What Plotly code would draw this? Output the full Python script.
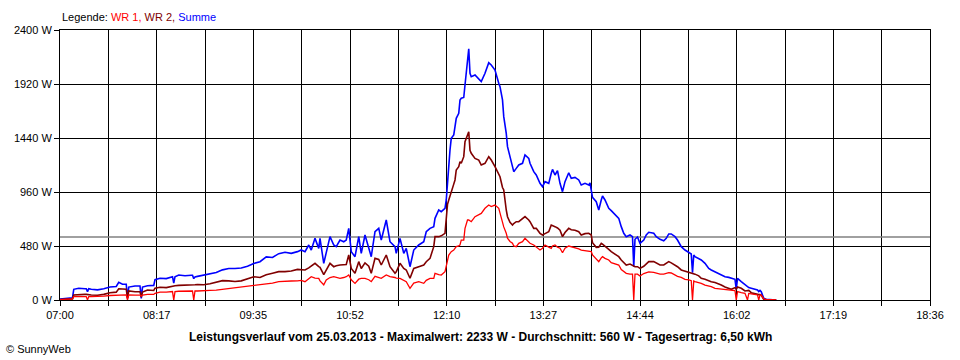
import plotly.graph_objects as go

# ---- data (minutes after 07:00, watts) ----
minutes = [0, 5, 10, 11, 15, 20, 21, 22, 23, 25, 30, 35, 40, 45, 47, 50, 53, 54, 55, 60, 64, 65, 66, 70, 75, 76, 80, 85, 90, 91, 92, 95, 100, 105, 106, 107, 108, 110, 115, 120, 125, 130, 135, 140, 145, 150, 155, 160, 165, 170, 175, 180, 185, 190, 193,
           196, 199, 201, 204, 207, 208, 211, 213, 216, 219, 221, 224, 227, 229, 231, 233, 236, 239, 241, 244, 247, 249, 252, 255, 257, 261, 264, 268, 269, 272, 275, 277, 280, 283, 287, 291, 293, 296, 299,
           300, 303, 305, 308, 309, 310, 311, 312, 313, 315, 316, 317, 319, 320, 321, 323, 324, 325, 326, 327, 328, 329, 332, 335, 337, 340, 343, 345, 348, 351, 352, 354, 355, 357, 358, 360, 362, 363, 365, 367, 370, 372, 375,
           376, 379, 381, 384, 386, 388, 391, 393, 394, 396, 398, 400, 402, 404, 407, 409, 412, 415, 417, 420, 423, 424, 425, 426, 429, 431, 433, 434, 436, 439, 441, 444, 447, 449, 451, 453, 456, 458, 459, 460, 462,
           464, 467, 469, 471, 475, 477, 480, 483, 485, 487, 489, 492, 494, 497, 500, 503, 505, 506, 507, 508, 511, 513, 516, 519, 521, 524, 527, 529, 532, 535, 537, 540, 541, 542, 545, 548, 550, 551, 553, 556, 558, 559, 560, 561, 563, 565, 571, 573]

summe = [8, 15, 20, 95, 104, 100, 100, 75, 100, 95, 90, 100, 115, 120, 157, 140, 140, 15, 115, 125, 125, 15, 115, 127, 130, 180, 193, 190, 207, 150, 207, 222, 215, 220, 220, 190, 205, 210, 222, 228, 245, 268, 280, 280, 285, 300, 325, 340, 383, 378, 412, 424, 415, 430, 445,
         430, 489, 444, 548, 459, 548, 326, 415, 563, 489, 474, 533, 518, 533, 637, 430, 385, 563, 415, 578, 474, 385, 607, 637, 533, 711, 518, 474, 415, 548, 415, 459, 296, 444, 489, 518, 607, 637, 652,
         726, 800, 785, 815, 889, 1037, 1215, 1333, 1437, 1467, 1541, 1615, 1659, 1778, 1793, 1800, 1911, 2044, 2148, 2233, 2015, 1985, 2000, 1970, 1941, 2015, 2110, 2089, 2044, 1926, 1896, 1778, 1630, 1481, 1363, 1274, 1185, 1141, 1170, 1200, 1215, 1289, 1259,
         1215, 1141, 1111, 1037, 1007, 1052, 1037, 1126, 1161, 1111, 1150, 1037, 963, 1052, 1131, 1081, 1090, 1067, 1022, 1037, 1022, 1040, 978, 913, 874, 800, 889, 924, 889, 815, 794, 756, 726, 652, 593, 563, 578, 563, 296, 540, 560,
         504, 533, 578, 602, 593, 563, 539, 527, 548, 587, 587, 563, 533, 474, 444, 424, 409, 243, 400, 385, 370, 356, 326, 281, 267, 252, 237, 222, 207, 201, 193, 184, 95, 193, 163, 133, 113, 110, 104, 95, 89, 75, 85, 74, 15, 6, 5, 0]

wr2 = [4, 8, 10, 45, 50, 50, 50, 50, 50, 45, 42, 50, 65, 70, 100, 95, 95, 20, 80, 74, 74, 25, 70, 89, 85, 105, 113, 110, 127, 125, 127, 130, 130, 135, 135, 130, 135, 138, 135, 145, 158, 172, 170, 165, 170, 190, 207, 200, 225, 238, 252, 252, 258, 272, 268,
       267, 285, 300, 326, 296, 290, 225, 267, 326, 296, 305, 311, 311, 315, 400, 280, 237, 341, 280, 330, 300, 237, 370, 360, 311, 400, 296, 237, 250, 326, 280, 267, 193, 280, 296, 311, 340, 370, 474,
       563, 563, 570, 593, 741, 850, 889, 930, 963, 1030, 1067, 1156, 1185, 1230, 1215, 1274, 1407, 1440, 1480, 1496, 1330, 1304, 1259, 1244, 1200, 1215, 1274, 1244, 1185, 1111, 1096, 1000, 978, 800, 740, 690, 667, 680, 696, 696, 726, 741, 711,
       696, 637, 637, 593, 578, 590, 607, 667, 660, 652, 640, 620, 563, 600, 637, 625, 620, 607, 578, 590, 593, 585, 578, 510, 468, 470, 504, 496, 480, 450, 430, 405, 385, 355, 330, 311, 320, 305, 296, 296, 296,
       281, 300, 320, 341, 341, 330, 311, 311, 325, 341, 330, 310, 296, 267, 258, 250, 243, 240, 235, 230, 215, 193, 185, 170, 163, 155, 145, 133, 115, 104, 95, 110, 95, 115, 104, 80, 85, 85, 65, 53, 50, 48, 48, 44, 5, 0, 0, 0]

wr1 = [4, 7, 10, 30, 30, 30, 30, 0, 30, 30, 30, 35, 40, 40, 45, 45, 45, 0, 45, 44, 44, 35, 44, 50, 50, 60, 70, 70, 75, 0, 75, 78, 80, 80, 80, 0, 80, 80, 80, 85, 88, 95, 100, 106, 112, 120, 127, 132, 143, 150, 163, 169, 169, 170, 175,
       163, 185, 207, 195, 192, 170, 135, 178, 200, 207, 200, 192, 200, 207, 222, 180, 148, 185, 192, 192, 180, 163, 210, 200, 192, 222, 207, 200, 195, 192, 170, 163, 104, 150, 163, 148, 175, 192, 192,
       237, 225, 222, 252, 300, 356, 400, 415, 430, 444, 460, 474, 480, 489, 533, 533, 637, 680, 711, 711, 700, 696, 741, 756, 770, 815, 844, 830, 844, 815, 770, 696, 650, 593, 550, 520, 504, 480, 474, 504, 519, 548, 519,
       504, 489, 474, 444, 460, 489, 470, 459, 480, 489, 470, 460, 420, 460, 480, 475, 468, 455, 444, 440, 437, 432, 430, 400, 360, 341, 375, 385, 370, 356, 332, 320, 311, 270, 250, 237, 230, 230, 0, 230, 230,
       213, 235, 245, 250, 245, 237, 230, 230, 235, 243, 240, 222, 210, 201, 184, 178, 172, 0, 168, 163, 155, 148, 133, 125, 119, 104, 100, 95, 89, 85, 83, 83, 0, 75, 65, 60, 0, 58, 55, 53, 45, 0, 45, 44, 10, 5, 0, 0]

x_labels = ["07:00", "08:17", "09:35", "10:52", "12:10", "13:27", "14:44", "16:02", "17:19", "18:36"]
y_ticks = [0, 480, 960, 1440, 1920, 2400]
average = 560
title_text = "Leistungsverlauf vom 25.03.2013 - Maximalwert: 2233 W - Durchschnitt: 560 W - Tagesertrag: 6,50 kWh"

# ---- build ----
start = 7 * 60
span = 18 * 60 + 36 - start
xs = [start + m for m in minutes]
grid_vals = [start + span * i / 18 for i in range(19)]
grid_text = [x_labels[i // 2] if i % 2 == 0 else "" for i in range(19)]

FONT = "Liberation Sans, Arial, sans-serif"

fig = go.Figure()
fig.add_trace(go.Scatter(x=[start, start + span], y=[average, average], mode="lines",
                         line=dict(color="#808080", width=1.5), hoverinfo="skip", showlegend=False))
fig.add_trace(go.Scatter(x=xs, y=summe, mode="lines", name="Summe",
                         line=dict(color="#0000ff", width=1.6), showlegend=False))
fig.add_trace(go.Scatter(x=xs, y=wr2, mode="lines", name="WR 2",
                         line=dict(color="#800000", width=1.6), showlegend=False))
fig.add_trace(go.Scatter(x=xs, y=wr1, mode="lines", name="WR 1",
                         line=dict(color="#ff0000", width=1.3), showlegend=False))

axis_common = dict(showgrid=True, gridcolor="black", gridwidth=1, ticks="outside", ticklen=5,
                   tickcolor="black", tickwidth=1, showline=True, linecolor="black", linewidth=1,
                   mirror=True, zeroline=False, tickfont=dict(family=FONT, size=11, color="black"),
                   fixedrange=True)

fig.update_layout(
    width=960, height=360,
    margin=dict(l=60, r=30, t=30, b=60),
    paper_bgcolor="white", plot_bgcolor="white",
    font=dict(family=FONT, size=11, color="black"),
    xaxis=dict(range=[start, start + span], tickmode="array", tickvals=grid_vals, ticktext=grid_text, **axis_common),
    yaxis=dict(range=[0, 2400], tickmode="array", tickvals=y_ticks, ticktext=[f"{v} W" for v in y_ticks], **axis_common),
)

fig.add_annotation(x=0, xref="paper", xanchor="left", y=1.049, yref="paper", yanchor="middle",
                   showarrow=False, font=dict(family=FONT, size=11, color="black"),
                   text="Legende: <span style='color:#ff0000'>WR 1,</span> <span style='color:#800000'>WR 2,</span> <span style='color:#0000ff'>Summe</span>")
fig.add_annotation(x=(480 - 60) / 870, xref="paper", xanchor="center", y=-0.136, yref="paper", yanchor="middle",
                   showarrow=False, font=dict(family=FONT, size=12, color="black"),
                   text="<b>" + title_text + "</b>")
fig.add_annotation(x=(4 - 60) / 870, xref="paper", xanchor="left", y=-0.1826, yref="paper", yanchor="middle",
                   showarrow=False, font=dict(family=FONT, size=11, color="black"),
                   text="© SunnyWeb")

fig.write_html("out.html", config={"displayModeBar": False},
               post_script="document.body.style.margin='0';document.body.style.overflow='hidden';")
